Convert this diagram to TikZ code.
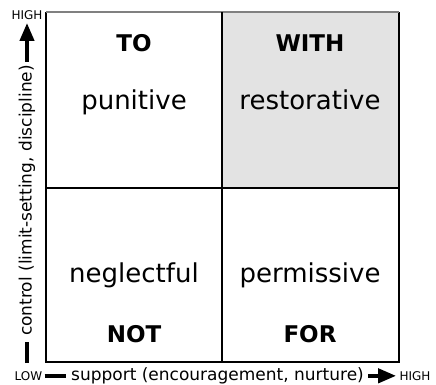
\documentclass[tikz,border=0pt]{standalone}
\usepackage{fontspec}
\setmainfont{DejaVu Sans}
\usetikzlibrary{arrows.meta}

\begin{document}
\begin{tikzpicture}[x=1bp,y=1bp,thick,
  quad/.style={font=\fontsize{26bp}{30bp}\selectfont,anchor=base},
  quadcap/.style={font=\fontsize{23bp}{27bp}\selectfont\bfseries},
  axislabel/.style={font=\fontsize{17bp}{20bp}\selectfont,inner sep=0pt},
  endlabel/.style={font=\fontsize{12bp}{14bp}\selectfont,inner sep=0pt},
  axisbar/.style={line width=4bp},
  axisarrow/.style={line width=4bp,-{Triangle[length=18bp,width=14bp]}}]
  \useasboundingbox (0,0) rectangle (436,384);
  % grid of the four quadrants
  \fill[gray!22] (222,196) rectangle (399,372);
  \draw[line width=1.3bp] (46,372) -- (46,22) -- (399,22) -- (399,372);
  \draw[line width=1.3bp,gray] (46,372) -- (399,372);
  \draw[line width=1.1bp] (222,22) -- (222,372) (46,196) -- (399,196);
  % upper quadrants
  \node[quadcap] (to) at (134,341) {TO};
  \node[quad] (punitive) at (134,275) {punitive};
  \node[quadcap] (with) at (310,341) {WITH};
  \node[quad] (restorative) at (310,275) {restorative};
  % lower quadrants
  \node[quad] (neglectful) at (134,102) {neglectful};
  \node[quadcap] (not) at (134,50) {NOT};
  \node[quad] (permissive) at (310,102) {permissive};
  \node[quadcap] (for) at (310,50) {FOR};
  % support axis
  \node[endlabel,anchor=base] (lowx) at (28.5,3.5) {LOW};
  \node[axislabel,anchor=base] (support) at (217.5,3.5) {support (encouragement, nurture)};
  \node[endlabel,anchor=base] (highx) at (415,3.5) {HIGH};
  \draw[axisbar,shorten <=2bp,shorten >=5bp] (lowx.east) -- (lowx.east -| support.west);
  \draw[axisarrow,shorten <=4bp,shorten >=3bp] (support.east) -- (support.east -| highx.west);
  % control axis
  \coordinate (ctrlstart) at (27,21);
  \node[axislabel,rotate=90] (control) at (27,183.5) {control (limit-setting, discipline)};
  \node[endlabel] (highy) at (27,368.5) {HIGH};
  \draw[axisbar,shorten >=6bp] (ctrlstart) -- (control.west);
  \draw[axisarrow,shorten <=3bp,shorten >=2.5bp] (control.east) -- (highy.south);
\end{tikzpicture}
\end{document}
